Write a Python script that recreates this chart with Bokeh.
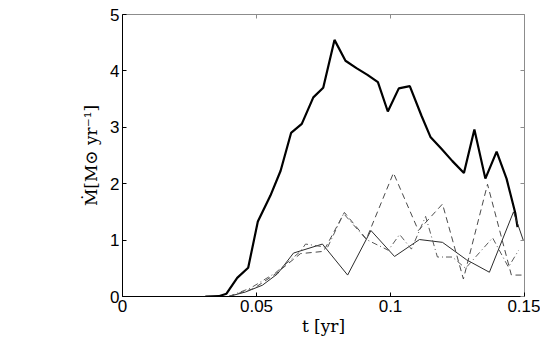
from bokeh.plotting import figure
from bokeh.models import LinearAxis, FixedTicker, Range1d
from bokeh.embed import file_html
from bokeh.resources import INLINE

# thick solid curve (total)
t_total = [0.0309, 0.0359, 0.0388, 0.0428, 0.0469, 0.0505, 0.0552, 0.0590, 0.0629,
           0.0669, 0.0712, 0.0749, 0.0791, 0.0832, 0.0873, 0.0914, 0.0953, 0.0990,
           0.1031, 0.1072, 0.1116, 0.1149, 0.1190, 0.1231, 0.1274, 0.1313, 0.1354,
           0.1396, 0.1433, 0.1466, 0.1474]
m_total = [0.0, 0.005, 0.05, 0.33, 0.51, 1.33, 1.79, 2.23, 2.90,
           3.06, 3.53, 3.70, 4.55, 4.18, 4.05, 3.93, 3.80, 3.28,
           3.69, 3.73, 3.20, 2.83, 2.62, 2.40, 2.19, 2.96, 2.09,
           2.57, 2.09, 1.47, 1.23]

# thin solid curve
t_solid = [0.0396, 0.0459, 0.0522, 0.0578, 0.0638, 0.0746, 0.0840, 0.0927, 0.1015,
           0.1108, 0.1194, 0.1284, 0.1369, 0.1459, 0.1496]
m_solid = [0.0, 0.08, 0.20, 0.40, 0.77, 0.93, 0.38, 1.17, 0.71,
           1.01, 0.96, 0.65, 0.43, 1.50, 0.99]

# dashed curve
t_dash = [0.0396, 0.0489, 0.0571, 0.0664, 0.0750, 0.0828, 0.0910, 0.1011, 0.1104,
          0.1194, 0.1272, 0.1362, 0.1451, 0.1496]
m_dash = [0.0, 0.14, 0.40, 0.76, 0.80, 1.49, 1.02, 2.19, 1.17,
          1.64, 0.31, 1.99, 0.38, 0.38]

# dash-dot curve
t_dd = [0.0396, 0.0478, 0.0571, 0.0664, 0.0683, 0.0765, 0.0825, 0.0910, 0.0992,
        0.1034, 0.1078, 0.1131, 0.1175, 0.1231, 0.1280, 0.1381, 0.1440, 0.1478]
m_dd = [0.0, 0.15, 0.42, 0.80, 0.93, 0.87, 1.47, 1.01, 0.82,
        1.10, 0.84, 1.42, 0.70, 0.70, 0.50, 1.04, 0.52, 0.82]

x_ticks = [0, 0.05, 0.1, 0.15]
y_ticks = [0, 1, 2, 3, 4, 5]

p = figure(frame_width=402, frame_height=282, output_backend="svg", toolbar_location=None,
           x_range=Range1d(0, 0.15), y_range=Range1d(0, 5),
           min_border_left=122, min_border_top=14, min_border_right=16, min_border_bottom=40)
p.background_fill_color = "white"
p.border_fill_color = "white"
p.grid.visible = False
p.outline_line_color = "#8c8c8c"
p.outline_line_width = 1

p.line(t_total, m_total, line_color="black", line_width=2.2)
p.line(t_solid, m_solid, line_color="#2b2b2b", line_width=1)
p.line(t_dash, m_dash, line_color="#4a4a4a", line_width=1, line_dash="6 4")
p.line(t_dd, m_dd, line_color="#5a5a5a", line_width=1, line_dash="6 3 1 3")

label_font = "Liberation Sans"
for ax, ticks in ((p.xaxis[0], x_ticks), (p.yaxis[0], y_ticks)):
    ax.ticker = FixedTicker(ticks=ticks)
    ax.minor_tick_line_color = None
    ax.major_tick_in = 4
    ax.major_tick_out = 0
    ax.axis_line_color = "black"
    ax.major_tick_line_color = "black"
    ax.major_label_text_font = label_font
    ax.major_label_text_font_size = "17px"
    ax.major_label_text_color = "black"
    ax.axis_label_text_font = "DejaVu Serif"
    ax.axis_label_text_font_size = "17px"
    ax.axis_label_text_font_style = "normal"
    ax.axis_label_text_color = "black"

p.xaxis[0].major_label_overrides = {0: "0", 0.05: "0.05", 0.1: "0.1", 0.15: "0.15"}
p.xaxis[0].major_label_standoff = 3
p.xaxis[0].axis_label = "t [yr]"
p.xaxis[0].axis_label_standoff = 1
p.yaxis[0].major_label_standoff = 3
p.yaxis[0].axis_label = "Ṁ[M⊙ yr⁻¹]"
p.yaxis[0].axis_label_standoff = 6

top = LinearAxis(ticker=FixedTicker(ticks=x_ticks))
right = LinearAxis(ticker=FixedTicker(ticks=y_ticks))
for ax in (top, right):
    ax.minor_tick_line_color = None
    ax.major_tick_in = 4
    ax.major_tick_out = 0
    ax.axis_line_color = None
    ax.major_tick_line_color = "#8c8c8c"
    ax.major_label_text_font_size = "0px"
    ax.major_label_text_color = None
    ax.major_label_standoff = 0
p.add_layout(top, "above")
p.add_layout(right, "right")

open("out.html", "w").write(file_html(p, INLINE))
